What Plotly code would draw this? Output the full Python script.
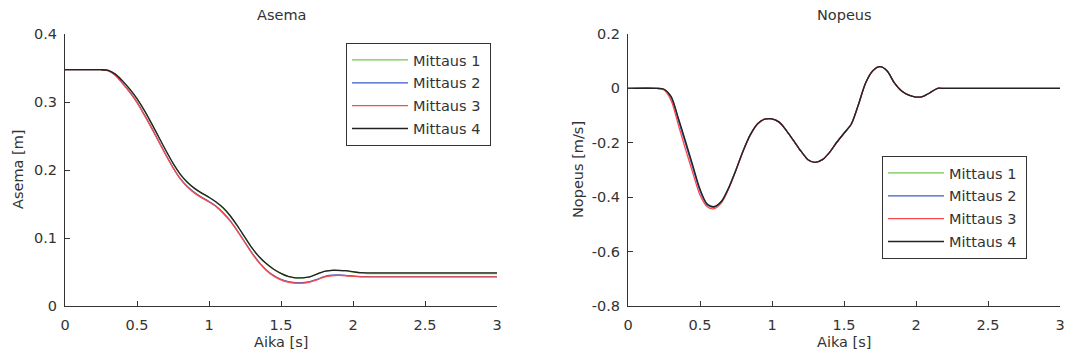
import plotly.graph_objects as go

# ---------------- data ----------------
time_s = [0, 0.2, 0.25, 0.3, 0.35, 0.4, 0.45, 0.5, 0.55, 0.6, 0.65, 0.7, 0.75, 0.8,
          0.85, 0.9, 0.95, 1.0, 1.05, 1.1, 1.15, 1.2, 1.25, 1.3, 1.35, 1.4, 1.45,
          1.5, 1.55, 1.6, 1.65, 1.7, 1.75, 1.8, 1.85, 1.9, 1.95, 2.0, 2.05, 2.1,
          2.15, 2.2, 3.0]

series_names = ["Mittaus 1", "Mittaus 2", "Mittaus 3", "Mittaus 4"]
series_colors = ["#72c452", "#3b5bc8", "#ff4848", "#222222"]

# Asema [m]
asema_1 = [0.3475, 0.3475, 0.3475, 0.3465, 0.3408, 0.3307, 0.3187, 0.3047, 0.2877,
           0.2686, 0.2486, 0.2286, 0.2096, 0.1936, 0.1816, 0.1726, 0.1656, 0.1596,
           0.1526, 0.1436, 0.1316, 0.1166, 0.1006, 0.0846, 0.0716, 0.0616, 0.0536,
           0.0476, 0.0432, 0.0413, 0.0413, 0.0428, 0.0468, 0.0508, 0.0522, 0.0522,
           0.0516, 0.0500, 0.0486, 0.0478, 0.0478, 0.0478, 0.0478]
asema_2 = [0.3475, 0.3475, 0.3475, 0.3461, 0.3395, 0.3277, 0.3147, 0.2997, 0.2817,
           0.2627, 0.2427, 0.2227, 0.2037, 0.1877, 0.1757, 0.1667, 0.1597, 0.1537,
           0.1467, 0.1367, 0.1247, 0.1097, 0.0937, 0.0777, 0.0637, 0.0527, 0.0447,
           0.0392, 0.0357, 0.0342, 0.0342, 0.0357, 0.0392, 0.0432, 0.0452, 0.0456,
           0.0451, 0.0441, 0.0432, 0.0432, 0.0432, 0.0432, 0.0432]
asema_3 = [0.3475, 0.3475, 0.3475, 0.346, 0.339, 0.327, 0.314, 0.299, 0.281, 0.262,
           0.242, 0.222, 0.203, 0.187, 0.175, 0.166, 0.159, 0.153, 0.146, 0.136,
           0.124, 0.109, 0.093, 0.077, 0.063, 0.052, 0.044, 0.0385, 0.035, 0.0335,
           0.0335, 0.035, 0.0385, 0.0425, 0.0445, 0.045, 0.0445, 0.0435, 0.0428,
           0.0428, 0.0428, 0.0428, 0.0428]
asema_4 = [0.3475, 0.3475, 0.3475, 0.3465, 0.341, 0.331, 0.319, 0.305, 0.288, 0.269,
           0.249, 0.229, 0.210, 0.194, 0.182, 0.173, 0.166, 0.160, 0.153, 0.144,
           0.132, 0.117, 0.101, 0.085, 0.072, 0.062, 0.054, 0.048, 0.0435, 0.0415,
           0.0415, 0.043, 0.047, 0.051, 0.0525, 0.0525, 0.052, 0.0505, 0.049,
           0.0487, 0.0487, 0.0487, 0.0487]

# Nopeus [m/s]
nopeus_1 = [0, 0, -0.003, -0.032, -0.113, -0.199, -0.287, -0.373, -0.427, -0.435,
            -0.414, -0.364, -0.299, -0.229, -0.170, -0.130, -0.113, -0.112, -0.124,
            -0.155, -0.192, -0.230, -0.262, -0.272, -0.262, -0.235, -0.198, -0.165,
            -0.132, -0.060, 0.020, 0.065, 0.080, 0.064, 0.020, -0.010, -0.025,
            -0.032, -0.029, -0.015, 0, 0, 0]
nopeus_2 = [0, 0, -0.004, -0.035, -0.118, -0.204, -0.292, -0.378, -0.429, -0.437,
            -0.415, -0.364, -0.299, -0.229, -0.170, -0.130, -0.113, -0.112, -0.124,
            -0.155, -0.192, -0.230, -0.262, -0.272, -0.262, -0.235, -0.198, -0.165,
            -0.132, -0.060, 0.020, 0.065, 0.080, 0.064, 0.020, -0.010, -0.025,
            -0.032, -0.029, -0.015, 0, 0, 0]
nopeus_3 = [0, 0, -0.006, -0.045, -0.135, -0.225, -0.310, -0.392, -0.435, -0.442,
            -0.420, -0.368, -0.301, -0.230, -0.171, -0.131, -0.113, -0.112, -0.124,
            -0.155, -0.192, -0.230, -0.262, -0.272, -0.262, -0.235, -0.198, -0.165,
            -0.132, -0.060, 0.020, 0.065, 0.080, 0.064, 0.020, -0.010, -0.025,
            -0.032, -0.029, -0.015, 0, 0, 0]
nopeus_4 = [0, 0, -0.003, -0.030, -0.110, -0.195, -0.283, -0.370, -0.425, -0.434,
            -0.415, -0.365, -0.300, -0.229, -0.170, -0.130, -0.113, -0.112, -0.124,
            -0.155, -0.192, -0.230, -0.262, -0.272, -0.262, -0.235, -0.198, -0.165,
            -0.132, -0.060, 0.020, 0.065, 0.080, 0.064, 0.020, -0.010, -0.025,
            -0.032, -0.029, -0.015, 0, 0, 0]

x_tickvals = [0, 0.5, 1, 1.5, 2, 2.5, 3]
x_ticktext = ["0", "0.5", "1", "1.5", "2", "2.5", "3"]
y1_tickvals = [0, 0.1, 0.2, 0.3, 0.4]
y1_ticktext = ["0", "0.1", "0.2", "0.3", "0.4"]
y2_tickvals = [-0.8, -0.6, -0.4, -0.2, 0, 0.2]
y2_ticktext = ["-0.8", "-0.6", "-0.4", "-0.2", "0", "0.2"]

asema = [asema_1, asema_2, asema_3, asema_4]
nopeus = [nopeus_1, nopeus_2, nopeus_3, nopeus_4]

# ---------------- figure ----------------
W, H = 1073, 359
FONT = "DejaVu Sans"
FS = 14.5
TXT = "#333333"
AX = "#333333"
PAD = "\u00a0"  # a little breathing room after legend text, like the reference box

fig = go.Figure()
for i, (name, col, ys) in enumerate(zip(series_names, series_colors, asema)):
    fig.add_trace(go.Scatter(x=time_s, y=ys, mode="lines", name=name + PAD,
                             legendgroup=f"a{i}",
                             line=dict(color=col, width=1.3, shape="spline", smoothing=0.8),
                             xaxis="x", yaxis="y", legend="legend"))
for i, (name, col, ys) in enumerate(zip(series_names, series_colors, nopeus)):
    fig.add_trace(go.Scatter(x=time_s, y=ys, mode="lines", name=name + PAD,
                             legendgroup=f"n{i}",
                             line=dict(color=col, width=1.3, shape="spline", smoothing=0.8),
                             xaxis="x2", yaxis="y2", legend="legend2"))

ydom = [(H - 306) / H, (H - 34) / H]
axis_common = dict(showline=True, linecolor=AX, linewidth=1, ticks="inside", ticklen=5,
                   tickcolor=AX, tickwidth=1, showgrid=False, zeroline=False,
                   automargin=False,
                   tickfont=dict(family=FONT, size=FS, color=TXT))


def text_ann(text, x_px, y_px, angle=0):
    return dict(text=text, x=x_px / W, y=(H - y_px) / H, xref="paper", yref="paper",
                showarrow=False, xanchor="center", yanchor="middle", textangle=angle,
                font=dict(family=FONT, size=FS, color=TXT))


legend_common = dict(bgcolor="white", bordercolor="#333333", borderwidth=1,
                     font=dict(family=FONT, size=FS, color=TXT), itemwidth=56,
                     tracegroupgap=1)

fig.update_layout(
    width=W, height=H, margin=dict(l=0, r=0, t=0, b=0, autoexpand=False),
    paper_bgcolor="white", plot_bgcolor="white",
    font=dict(family=FONT, size=FS, color=TXT),
    xaxis=dict(domain=[65 / W, 497 / W], range=[0, 3], tickvals=x_tickvals,
               ticktext=x_ticktext, anchor="y", ticklabelstandoff=6, **axis_common),
    yaxis=dict(domain=ydom, range=[0, 0.4], tickvals=y1_tickvals, ticktext=y1_ticktext,
               anchor="x", ticklabelstandoff=4, **axis_common),
    xaxis2=dict(domain=[628 / W, 1060 / W], range=[0, 3], tickvals=x_tickvals,
                ticktext=x_ticktext, anchor="y2", ticklabelstandoff=6, **axis_common),
    yaxis2=dict(domain=ydom, range=[-0.8, 0.2], tickvals=y2_tickvals, ticktext=y2_ticktext,
                anchor="x2", ticklabelstandoff=4, **axis_common),
    legend=dict(x=491 / W, xanchor="right", y=(H - 43) / H, yanchor="top", **legend_common),
    legend2=dict(x=1027 / W, xanchor="right", y=(H - 156) / H, yanchor="top", **legend_common),
    annotations=[
        text_ann("Asema", (65 + 497) / 2, 15),
        text_ann("Nopeus", (628 + 1060) / 2, 15),
        text_ann("Aika [s]", (65 + 497) / 2, 342),
        text_ann("Aika [s]", (628 + 1060) / 2, 342),
        text_ann("Asema [m]", 18, 170, -90),
        text_ann("Nopeus [m/s]", 578, 170, -90),
    ],
)

fig.write_html("out.html")
